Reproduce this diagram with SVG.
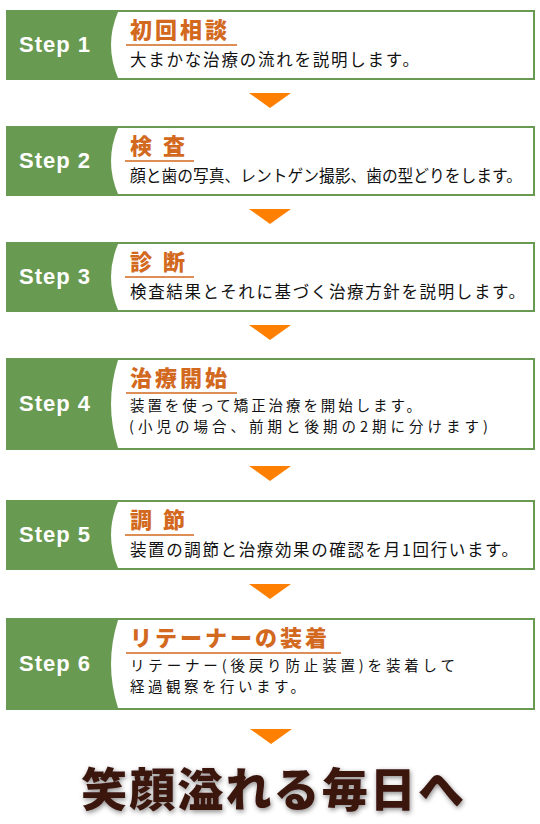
<svg xmlns="http://www.w3.org/2000/svg" width="540" height="824" viewBox="0 0 540 824">
<style>
.box{fill:#689a52}
.panel{fill:#ffffff}
.step{font-family:"Liberation Sans",Arial,sans-serif;font-weight:bold;font-size:22px;fill:#ffffff}
.title{font-family:"Noto Sans CJK JP",sans-serif;font-weight:900;font-size:22px;fill:#d2691e;letter-spacing:3px}
.uline{stroke:#d2691e;stroke-width:1.5}
.desc{font-family:"Noto Sans CJK JP",sans-serif;font-size:16.5px;fill:#111111}
.desc2{font-family:"Noto Sans CJK JP",sans-serif;font-size:14.5px;fill:#111111}
.arrow{fill:#ff8000}
.final{font-family:"Noto Sans CJK JP",sans-serif;font-weight:900;font-size:46px;fill:#3a1610}
</style>
<defs>
<filter id="sh" x="-10%" y="-30%" width="120%" height="160%">
<feDropShadow dx="1" dy="2" stdDeviation="2.5" flood-color="#000000" flood-opacity="0.45"/>
</filter>
</defs>
<rect width="540" height="824" fill="#ffffff"/>

<g id="step1">
<rect class="box" x="6" y="10" width="529" height="70"/>
<path class="panel" d="M118 12 Q104 45 118 78 L533 78 L533 12 Z"/>
<text class="step" x="19" y="52" textLength="71">Step 1</text>
<text class="title" x="130" y="38">初回相談</text>
<line class="uline" x1="126" y1="45" x2="237" y2="45"/>
<text class="desc" x="130" y="66" textLength="289">大まかな治療の流れを説明します。</text>
</g>

<g id="step2">
<rect class="box" x="6" y="126" width="529" height="70"/>
<path class="panel" d="M118 128 Q104 161 118 194 L533 194 L533 128 Z"/>
<text class="step" x="19" y="168" textLength="71">Step 2</text>
<text class="title" x="130" y="154">検 査</text>
<line class="uline" x1="125" y1="161" x2="194" y2="161"/>
<text class="desc" x="130" y="182" textLength="392" lengthAdjust="spacingAndGlyphs">顔と歯の写真、レントゲン撮影、歯の型どりをします。</text>
</g>

<g id="step3">
<rect class="box" x="6" y="242" width="529" height="70"/>
<path class="panel" d="M118 244 Q104 277 118 310 L533 310 L533 244 Z"/>
<text class="step" x="19" y="284" textLength="71">Step 3</text>
<text class="title" x="130" y="270">診 断</text>
<line class="uline" x1="125" y1="277" x2="194" y2="277"/>
<text class="desc" x="130" y="298" textLength="395">検査結果とそれに基づく治療方針を説明します。</text>
</g>

<g id="step4">
<rect class="box" x="6" y="358" width="529" height="92"/>
<path class="panel" d="M118 360 Q104 404 118 448 L533 448 L533 360 Z"/>
<text class="step" x="19" y="411" textLength="71">Step 4</text>
<text class="title" x="130" y="386">治療開始</text>
<line class="uline" x1="126" y1="393" x2="237" y2="393"/>
<text class="desc2" x="130" y="411" textLength="291">装置を使って矯正治療を開始します。</text>
<text class="desc2" x="129" y="432" textLength="359">(小児の場合、前期と後期の2期に分けます)</text>
</g>

<g id="step5">
<rect class="box" x="6" y="500" width="529" height="70"/>
<path class="panel" d="M118 502 Q104 535 118 568 L533 568 L533 502 Z"/>
<text class="step" x="19" y="542" textLength="71">Step 5</text>
<text class="title" x="130" y="528">調 節</text>
<line class="uline" x1="125" y1="535" x2="194" y2="535"/>
<text class="desc" x="130" y="556" textLength="388">装置の調節と治療効果の確認を月1回行います。</text>
</g>

<g id="step6">
<rect class="box" x="6" y="618" width="529" height="92"/>
<path class="panel" d="M118 620 Q104 664 118 708 L533 708 L533 620 Z"/>
<text class="step" x="19" y="671" textLength="71">Step 6</text>
<text class="title" x="130" y="646">リテーナーの装着</text>
<line class="uline" x1="126" y1="653" x2="341" y2="653"/>
<text class="desc2" x="130" y="671" textLength="325">リテーナー(後戻り防止装置)を装着して</text>
<text class="desc2" x="130" y="692" textLength="175">経過観察を行います。</text>
</g>

<g id="connectors">
<polygon class="arrow" points="249,93 291,93 270,108"/>
<polygon class="arrow" points="249,209 291,209 270,224"/>
<polygon class="arrow" points="249,325 291,325 270,340"/>
<polygon class="arrow" points="249,466 291,466 270,481"/>
<polygon class="arrow" points="249,584 291,584 270,599"/>
<polygon class="arrow" points="250,729 292,729 271,744"/>
</g>

<g id="final">
<text class="final" x="81" y="806" textLength="383" filter="url(#sh)">笑顔溢れる毎日へ</text>
</g>
</svg>
